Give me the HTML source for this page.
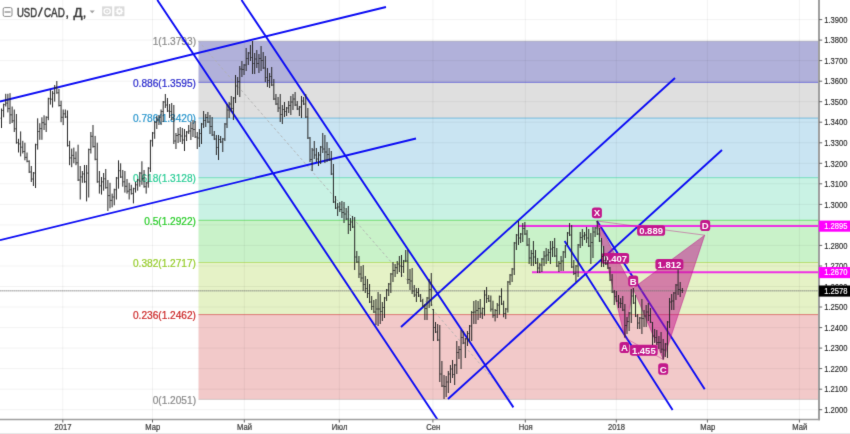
<!DOCTYPE html>
<html lang="ru"><head><meta charset="utf-8"><title>USD/CAD</title>
<style>html,body{margin:0;padding:0;background:#fff;overflow:hidden}body{width:850px;height:434px;position:relative;font-family:"Liberation Sans",sans-serif}</style>
</head><body>
<svg width="850" height="434" viewBox="0 0 850 434" style="position:absolute;left:0;top:0;will-change:transform;font-family:'Liberation Sans',sans-serif">
<defs><filter id="soft" x="0" y="0" width="850" height="434" filterUnits="userSpaceOnUse" color-interpolation-filters="sRGB"><feConvolveMatrix order="3" kernelMatrix="0.0100 0.0800 0.0100 0.0800 0.6400 0.0800 0.0100 0.0800 0.0100" edgeMode="duplicate" preserveAlpha="true"/></filter></defs>
<g filter="url(#soft)">
<rect width="850" height="434" fill="#fff"/>
<clipPath id="cp"><rect x="0" y="0" width="819.0" height="419.5"/></clipPath>
<g clip-path="url(#cp)">
<rect x="198.5" y="41.2" width="620.5" height="41.2" fill="#b1b1da"/>
<rect x="198.5" y="82.4" width="620.5" height="35.7" fill="#dfdfdf"/>
<rect x="198.5" y="118.1" width="620.5" height="59.6" fill="#c9e4f2"/>
<rect x="198.5" y="177.7" width="620.5" height="42.6" fill="#c9f2e4"/>
<rect x="198.5" y="220.3" width="620.5" height="42.2" fill="#c9f2c9"/>
<rect x="198.5" y="262.5" width="620.5" height="52.1" fill="#e5f2c6"/>
<rect x="198.5" y="314.6" width="620.5" height="84.8" fill="#f2c9c9"/>
<path d="M0 19.6H819.0M0 40.1H819.0M0 60.6H819.0M0 81.2H819.0M0 101.7H819.0M0 122.2H819.0M0 142.8H819.0M0 163.3H819.0M0 183.8H819.0M0 204.4H819.0M0 224.9H819.0M0 245.4H819.0M0 266.0H819.0M0 286.5H819.0M0 307.0H819.0M0 327.6H819.0M0 348.1H819.0M0 368.6H819.0M0 389.2H819.0M0 409.7H819.0M62.8 0V419.5M152.5 0V419.5M244.3 0V419.5M339.3 0V419.5M432.9 0V419.5M525.3 0V419.5M616.3 0V419.5M707.4 0V419.5M799.4 0V419.5" stroke="#000" stroke-opacity="0.052" stroke-width="1" fill="none"/>
<path d="M198.5 41.2H819.0" stroke="#808080" stroke-opacity="0.3" stroke-width="1"/>
<path d="M198.5 82.4H819.0" stroke="#2828cc" stroke-opacity="0.55" stroke-width="1"/>
<path d="M198.5 118.1H819.0" stroke="#2895cc" stroke-opacity="0.55" stroke-width="1"/>
<path d="M198.5 177.7H819.0" stroke="#28cc95" stroke-opacity="0.55" stroke-width="1"/>
<path d="M198.5 220.3H819.0" stroke="#28cc28" stroke-opacity="0.55" stroke-width="1"/>
<path d="M198.5 262.5H819.0" stroke="#95cc28" stroke-opacity="0.55" stroke-width="1"/>
<path d="M198.5 314.6H819.0" stroke="#cc2828" stroke-opacity="0.55" stroke-width="1"/>
<path d="M198.5 399.4H819.0" stroke="#808080" stroke-opacity="0.3" stroke-width="1"/>
<text x="196" y="45.4" font-size="10.15" fill="#8a8a8a" stroke="#8a8a8a" stroke-width="0.2" text-anchor="end">1(1.3793)</text>
<text x="196" y="86.6" font-size="10.15" fill="#2828cc" stroke="#2828cc" stroke-width="0.2" text-anchor="end">0.886(1.3595)</text>
<text x="196" y="122.3" font-size="10.15" fill="#2895cc" stroke="#2895cc" stroke-width="0.2" text-anchor="end">0.786(1.3420)</text>
<text x="196" y="181.9" font-size="10.15" fill="#28cc95" stroke="#28cc95" stroke-width="0.2" text-anchor="end">0.618(1.3128)</text>
<text x="196" y="224.5" font-size="10.15" fill="#28cc28" stroke="#28cc28" stroke-width="0.2" text-anchor="end">0.5(1.2922)</text>
<text x="196" y="266.7" font-size="10.15" fill="#95cc28" stroke="#95cc28" stroke-width="0.2" text-anchor="end">0.382(1.2717)</text>
<text x="196" y="318.8" font-size="10.15" fill="#cc2828" stroke="#cc2828" stroke-width="0.2" text-anchor="end">0.236(1.2462)</text>
<text x="196" y="403.6" font-size="10.15" fill="#8a8a8a" stroke="#8a8a8a" stroke-width="0.2" text-anchor="end">0(1.2051)</text>
<path d="M198.5 41.2L511 399.4" stroke="#b0b0b0" stroke-opacity="0.9" stroke-width="1" stroke-dasharray="2.5 2.5" fill="none"/>
<path d="M0 101.5L386 7M0 240.2L416 138.5M157.3 0L437.8 420M241.5 0L513.4 407.4M401 327L675 78M448 399L722 150" stroke="#0c0cf4" stroke-width="1.9" fill="none"/>
<path d="M564.6 241L672.6 410M597 221L704.7 389.3" stroke="#0c0cf4" stroke-width="1.9" fill="none"/>
<path d="M519 226H819.0M532 272.2H819.0" stroke="#f020e6" stroke-width="1.9" stroke-opacity="0.92"/>
<polygon points="597.0,221.0 624.8,337.7 633.0,288.2" fill="#c2188b" fill-opacity="0.53" stroke="#c2188b" stroke-opacity="0.5" stroke-width="1" stroke-linejoin="round"/>
<polygon points="633.0,288.2 663.3,359.5 704.7,235.2" fill="#c2188b" fill-opacity="0.53" stroke="#c2188b" stroke-opacity="0.5" stroke-width="1" stroke-linejoin="round"/>
<path d="M597.0 221.0L704.7 235.2M624.8 337.7L663.3 359.5" stroke="#c2188b" stroke-opacity="0.45" stroke-width="1" fill="none"/>
<rect x="591.9" y="207.5" width="10" height="10.8" rx="2.8" fill="#c2188b"/>
<text x="596.9" y="216.4" font-size="9.6" font-weight="700" fill="#fff" text-anchor="middle">X</text>
<rect x="700.2" y="220.0" width="10" height="11" rx="2.8" fill="#c2188b"/>
<text x="705.2" y="229.0" font-size="9.6" font-weight="700" fill="#fff" text-anchor="middle">D</text>
<rect x="628.2" y="275.6" width="10" height="11" rx="2.8" fill="#c2188b"/>
<text x="633.2" y="284.6" font-size="9.6" font-weight="700" fill="#fff" text-anchor="middle">B</text>
<rect x="619.5" y="342.0" width="9.8" height="11" rx="2.8" fill="#c2188b"/>
<text x="624.4" y="351.0" font-size="9.6" font-weight="700" fill="#fff" text-anchor="middle">A</text>
<rect x="658.2" y="363.3" width="10" height="11.4" rx="2.8" fill="#c2188b"/>
<text x="663.2" y="372.5" font-size="9.6" font-weight="700" fill="#fff" text-anchor="middle">C</text>
<rect x="637.1" y="225.3" width="28" height="10.4" rx="2.8" fill="#c2188b"/>
<text x="651.1" y="234.0" font-size="9.8" font-weight="700" fill="#fff" text-anchor="middle" textLength="23.8" lengthAdjust="spacingAndGlyphs">0.889</text>
<rect x="601.3" y="253.1" width="27.8" height="10.6" rx="2.8" fill="#c2188b"/>
<text x="615.2" y="261.9" font-size="9.8" font-weight="700" fill="#fff" text-anchor="middle" textLength="23.8" lengthAdjust="spacingAndGlyphs">0.407</text>
<rect x="655.4" y="259.1" width="28" height="10.6" rx="2.8" fill="#c2188b"/>
<text x="669.4" y="267.9" font-size="9.8" font-weight="700" fill="#fff" text-anchor="middle" textLength="23.8" lengthAdjust="spacingAndGlyphs">1.812</text>
<rect x="629.9" y="344.8" width="27.8" height="11" rx="2.8" fill="#c2188b"/>
<text x="643.8" y="353.8" font-size="9.8" font-weight="700" fill="#fff" text-anchor="middle" textLength="23.8" lengthAdjust="spacingAndGlyphs">1.455</text>
<path d="M0 290.8H819.0" stroke="#777" stroke-width="1.4" stroke-opacity="0.36"/>
<path d="M0 290.8H819.0" stroke="#555" stroke-width="1.4" stroke-dasharray="1 1" stroke-opacity="0.16"/>
<path d="M1.50 108.5V128.0M3.63 103.6V117.3M5.76 93.8V106.5M7.88 93.8V112.4M10.01 93.2V124.0M12.14 106.5V123.0M14.27 109.5V132.0M16.39 114.0V143.7M18.52 138.8V152.5M20.65 131.4V156.4M22.78 140.8V153.5M24.90 142.7V160.3M27.03 152.5V162.3M29.16 160.3V173.0M31.29 166.0V182.0M33.41 172.0V186.0M35.54 143.7V188.0M37.67 118.3V149.6M39.80 123.2V139.8M41.92 117.3V139.8M44.05 115.3V130.0M46.18 116.3V132.0M48.31 97.7V120.2M50.43 89.9V104.6M52.56 90.9V107.5M54.69 85.0V101.6M56.82 81.0V93.8M58.95 88.9V106.5M61.07 100.7V122.2M63.20 109.5V125.1M65.33 109.5V118.0M67.46 110.4V146.6M69.58 140.8V165.2M71.71 148.6V167.2M73.84 147.6V163.3M75.97 151.5V165.2M78.09 144.7V181.0M80.22 166.0V199.5M82.35 171.0V182.8M84.48 165.0V182.8M86.60 165.0V201.4M88.73 148.6V197.5M90.86 132.0V153.5M92.99 125.0V147.6M95.11 135.9V160.3M97.24 142.7V182.8M99.37 171.0V193.6M101.50 177.0V194.6M103.62 173.0V190.7M105.75 169.0V188.7M107.88 180.0V211.0M110.01 182.8V208.3M112.14 193.6V207.3M114.26 188.7V205.3M116.39 177.0V199.5M118.52 160.3V188.7M120.65 163.3V178.0M122.77 170.0V186.7M124.90 171.0V192.6M127.03 179.0V193.6M129.16 182.8V199.5M131.28 184.8V194.6M133.41 187.7V203.4M135.54 181.9V192.6M137.67 179.0V190.7M139.79 172.0V186.7M141.92 161.3V184.8M144.05 170.0V187.7M146.18 181.9V193.6M148.30 167.2V187.7M150.43 139.8V172.0M152.56 132.0V146.6M154.69 121.0V138.8M156.81 116.0V129.0M158.94 115.0V125.0M161.07 109.5V125.0M163.20 101.0V122.0M165.33 94.0V108.0M167.45 98.0V112.0M169.58 104.0V118.0M171.71 103.0V120.0M173.84 105.0V144.0M175.96 133.0V149.0M178.09 128.0V143.0M180.22 127.0V142.0M182.35 128.0V144.0M184.47 129.0V151.0M186.60 131.0V141.0M188.73 125.0V134.0M190.86 122.0V140.0M192.98 120.0V137.0M195.11 121.0V138.0M197.24 132.0V149.0M199.37 129.0V147.0M201.49 123.0V144.0M203.62 111.0V128.0M205.75 114.0V127.0M207.88 112.0V123.0M210.00 115.0V134.0M212.13 117.0V136.0M214.26 131.0V140.0M216.39 135.0V155.0M218.52 135.0V160.0M220.64 136.0V143.0M222.77 138.0V152.0M224.90 123.0V141.0M227.03 104.0V128.0M229.15 102.0V118.0M231.28 96.0V112.0M233.41 97.0V120.0M235.54 75.0V103.0M237.66 77.0V95.0M239.79 66.0V97.0M241.92 61.0V77.0M244.05 64.0V75.0M246.17 48.0V71.0M248.30 52.0V65.0M250.43 45.0V61.0M252.56 41.0V74.0M254.68 53.0V74.0M256.81 50.0V68.0M258.94 54.0V73.0M261.07 46.0V71.0M263.19 52.0V69.0M265.32 56.0V82.0M267.45 68.0V87.0M269.58 73.0V88.0M271.71 67.0V86.0M273.83 79.0V100.0M275.96 94.0V105.0M278.09 97.0V112.0M280.22 94.0V122.0M282.34 105.0V124.0M284.47 102.0V117.0M286.60 107.0V116.0M288.73 101.0V113.0M290.85 96.0V115.0M292.98 94.0V110.0M295.11 92.0V106.0M297.24 101.0V110.0M299.36 106.0V116.0M301.49 96.0V118.0M303.62 97.0V105.0M305.75 94.0V118.0M307.87 108.0V139.0M310.00 137.0V162.0M312.13 148.0V171.0M314.26 141.0V159.0M316.38 148.0V162.0M318.51 152.0V166.0M320.64 146.0V164.0M322.77 133.0V153.0M324.90 135.0V163.0M327.02 142.0V162.0M329.15 148.0V161.0M331.28 151.0V175.0M333.41 164.0V203.0M335.53 196.0V209.0M337.66 203.0V216.0M339.79 202.0V212.0M341.92 201.0V218.0M344.04 202.0V223.0M346.17 208.0V220.0M348.30 206.0V234.0M350.43 218.0V231.0M352.55 216.0V228.0M354.68 217.0V270.0M356.81 251.0V263.0M358.94 256.0V278.0M361.06 266.0V282.0M363.19 265.0V291.0M365.32 276.0V293.0M367.45 279.0V298.0M369.57 284.0V303.0M371.70 296.0V310.0M373.83 300.0V313.0M375.96 299.0V325.0M378.09 292.0V326.0M380.21 294.0V324.0M382.34 302.0V321.0M384.47 297.0V318.0M386.60 289.0V301.0M388.72 283.0V296.0M390.85 273.0V293.0M392.98 262.0V282.0M395.11 264.0V277.0M397.23 261.0V274.0M399.36 256.0V272.0M401.49 255.0V277.0M403.62 260.0V273.0M405.74 250.0V262.0M407.87 250.0V284.0M410.00 269.0V290.0M412.13 268.0V294.0M414.25 285.0V297.0M416.38 288.0V302.0M418.51 288.0V297.0M420.64 294.0V302.0M422.76 299.0V307.0M424.89 304.0V320.0M427.02 297.0V320.0M429.15 279.0V308.0M431.28 273.0V306.0M433.40 309.0V341.0M435.53 322.0V333.0M437.66 324.0V341.0M439.79 325.0V382.0M441.91 361.0V387.0M444.04 375.0V399.0M446.17 376.0V397.0M448.30 371.0V393.0M450.42 365.0V383.0M452.55 360.0V378.0M454.68 364.0V385.0M456.81 341.0V374.0M458.93 346.0V359.0M461.06 330.0V369.0M463.19 331.0V344.0M465.32 338.0V358.0M467.44 331.0V346.0M469.57 325.0V342.0M471.70 311.0V341.0M473.83 301.0V324.0M475.95 300.0V324.0M478.08 301.0V320.0M480.21 299.0V318.0M482.34 307.5V319.0M484.47 290.0V315.7M486.59 287.0V303.0M488.72 295.0V302.0M490.85 295.5V311.6M492.98 300.7V317.8M495.10 309.0V321.4M497.23 303.0V318.0M499.36 295.5V314.7M501.49 288.3V305.0M503.61 300.7V317.3M505.74 308.0V319.0M507.87 281.0V312.6M510.00 274.0V285.0M512.12 268.0V282.0M514.25 242.0V275.0M516.38 234.0V250.0M518.51 221.0V245.0M520.63 233.0V243.0M522.76 223.0V242.0M524.89 222.0V235.0M527.02 230.0V246.0M529.14 238.0V264.0M531.27 250.0V266.0M533.40 241.0V266.0M535.53 250.0V264.0M537.66 258.0V273.0M539.78 263.0V273.0M541.91 258.0V272.0M544.04 251.0V266.0M546.17 248.0V264.0M548.29 249.0V261.0M550.42 241.0V264.0M552.55 241.0V257.0M554.68 238.0V257.0M556.80 248.0V267.0M558.93 261.0V272.0M561.06 256.0V271.0M563.19 251.0V271.0M565.31 245.0V258.0M567.44 232.0V245.0M569.57 223.0V236.0M571.70 225.0V268.0M573.82 260.0V275.0M575.95 265.0V282.0M578.08 244.0V277.0M580.21 232.0V248.0M582.33 229.0V246.0M584.46 232.0V240.0M586.59 227.0V243.0M588.72 229.0V247.0M590.85 233.0V264.0M592.97 227.0V258.0M595.10 227.0V237.0M597.23 221.0V235.0M599.36 228.0V242.0M601.48 238.0V267.0M603.61 246.0V267.0M605.74 256.0V265.0M607.87 260.0V269.0M609.99 267.0V281.0M612.12 274.0V293.0M614.25 290.0V305.0M616.38 291.0V302.0M618.50 295.0V308.0M620.63 298.0V308.0M622.76 296.0V311.0M624.89 304.0V337.5M627.01 317.0V334.0M629.14 312.0V331.0M631.27 289.0V323.0M633.40 288.0V304.0M635.52 295.0V317.0M637.65 314.0V329.0M639.78 317.0V329.0M641.91 299.0V334.0M644.04 310.0V327.0M646.16 305.0V327.0M648.29 303.0V321.0M650.42 308.0V323.0M652.55 322.0V345.0M654.67 329.0V343.0M656.80 330.0V345.0M658.93 336.0V349.0M661.06 332.0V353.0M663.18 339.0V359.5M665.31 343.0V357.0M667.44 321.0V358.0M669.57 298.0V328.0M671.69 294.0V310.0M673.82 292.0V310.0M675.95 284.0V300.0M678.08 269.5V295.0M680.20 282.0V297.0M682.33 288.0V293.0" stroke="#262626" stroke-width="1" fill="none"/>
<path d="M0.40 118.2H1.50M1.50 110.4H2.60M2.53 110.4H3.63M3.63 104.6H4.73M4.66 104.6H5.76M5.76 103.1H6.86M6.78 103.1H7.88M7.88 108.6H8.98M8.91 108.6H10.01M10.01 114.8H11.11M11.04 114.8H12.14M12.14 120.8H13.24M13.17 120.8H14.27M14.27 128.8H15.37M15.29 128.8H16.39M16.39 142.7H17.49M17.42 142.7H18.52M18.52 143.9H19.62M19.55 143.9H20.65M20.65 147.2H21.75M21.68 147.2H22.78M22.78 151.5H23.88M23.80 151.5H24.90M24.90 157.4H26.00M25.93 157.4H27.03M27.03 161.3H28.13M28.06 161.3H29.16M29.16 172.0H30.26M30.19 172.0H31.29M31.29 179.0H32.39M32.31 179.0H33.41M33.41 173.0H34.51M34.44 173.0H35.54M35.54 144.7H36.64M36.57 144.7H37.67M37.67 131.5H38.77M38.70 131.5H39.80M39.80 128.6H40.90M40.82 128.6H41.92M41.92 122.7H43.02M42.95 122.7H44.05M44.05 124.2H45.15M45.08 124.2H46.18M46.18 117.3H47.28M47.21 117.3H48.31M48.31 98.7H49.41M49.33 98.7H50.43M50.43 99.2H51.53M51.46 99.2H52.56M52.56 93.3H53.66M53.59 93.3H54.69M54.69 87.4H55.79M55.72 87.4H56.82M56.82 92.8H57.92M57.85 92.8H58.95M58.95 105.5H60.05M59.97 105.5H61.07M61.07 117.3H62.17M62.10 117.3H63.20M63.20 113.8H64.30M64.23 113.8H65.33M65.33 117.0H66.43M66.36 117.0H67.46M67.46 145.6H68.56M68.48 145.6H69.58M69.58 157.9H70.68M70.61 157.9H71.71M71.71 155.4H72.81M72.74 155.4H73.84M73.84 158.3H74.94M74.87 158.3H75.97M75.97 162.8H77.07M76.99 162.8H78.09M78.09 180.0H79.19M79.12 180.0H80.22M80.22 176.9H81.32M81.25 176.9H82.35M82.35 173.9H83.45M83.38 173.9H84.48M84.48 181.8H85.58M85.50 181.8H86.60M86.60 173.1H87.70M87.63 173.1H88.73M88.73 149.6H89.83M89.76 149.6H90.86M90.86 136.3H91.96M91.89 136.3H92.99M92.99 146.6H94.09M94.01 146.6H95.11M95.11 159.3H96.21M96.14 159.3H97.24M97.24 181.8H98.34M98.27 181.8H99.37M99.37 185.8H100.47M100.40 185.8H101.50M101.50 181.8H102.60M102.52 181.8H103.62M103.62 178.8H104.72M104.65 178.8H105.75M105.75 187.7H106.85M106.78 187.7H107.88M107.88 195.6H108.98M108.91 195.6H110.01M110.01 200.4H111.11M111.04 200.4H112.14M112.14 197.0H113.24M113.16 197.0H114.26M114.26 189.7H115.36M115.29 189.7H116.39M116.39 178.0H117.49M117.42 178.0H118.52M118.52 170.7H119.62M119.55 170.7H120.65M120.65 177.0H121.75M121.67 177.0H122.77M122.77 181.8H123.87M123.80 181.8H124.90M124.90 186.3H126.00M125.93 186.3H127.03M127.03 191.2H128.13M128.06 191.2H129.16M129.16 189.7H130.26M130.18 189.7H131.28M131.28 193.6H132.38M132.31 193.6H133.41M133.41 188.7H134.51M134.44 188.7H135.54M135.54 184.8H136.64M136.57 184.8H137.67M137.67 180.0H138.77M138.69 180.0H139.79M139.79 173.1H140.89M140.82 173.1H141.92M141.92 178.8H143.02M142.95 178.8H144.05M144.05 186.7H145.15M145.08 186.7H146.18M146.18 182.9H147.28M147.20 182.9H148.30M148.30 168.2H149.40M149.33 168.2H150.43M150.43 140.8H151.53M151.46 140.8H152.56M152.56 133.0H153.66M153.59 133.0H154.69M154.69 122.5H155.79M155.71 122.5H156.81M156.81 120.0H157.91M157.84 120.0H158.94M158.94 117.2H160.04M159.97 117.2H161.07M161.07 111.5H162.17M162.10 111.5H163.20M163.20 102.0H164.30M164.23 102.0H165.33M165.33 105.0H166.43M166.35 105.0H167.45M167.45 111.0H168.55M168.48 111.0H169.58M169.58 111.5H170.68M170.61 111.5H171.71M171.71 119.0H172.81M172.74 119.0H173.84M173.84 141.0H174.94M174.86 141.0H175.96M175.96 135.5H177.06M176.99 135.5H178.09M178.09 134.5H179.19M179.12 134.5H180.22M180.22 136.0H181.32M181.25 136.0H182.35M182.35 140.0H183.45M183.37 140.0H184.47M184.47 136.0H185.57M185.50 136.0H186.60M186.60 132.0H187.70M187.63 132.0H188.73M188.73 131.0H189.83M189.76 131.0H190.86M190.86 128.5H191.96M191.88 128.5H192.98M192.98 129.5H194.08M194.01 129.5H195.11M195.11 137.0H196.21M196.14 137.0H197.24M197.24 138.0H198.34M198.27 138.0H199.37M199.37 133.5H200.47M200.39 133.5H201.49M201.49 124.0H202.59M202.52 124.0H203.62M203.62 120.5H204.72M204.65 120.5H205.75M205.75 117.5H206.85M206.78 117.5H207.88M207.88 122.0H208.98M208.90 122.0H210.00M210.00 126.5H211.10M211.03 126.5H212.13M212.13 135.0H213.23M213.16 135.0H214.26M214.26 139.0H215.36M215.29 139.0H216.39M216.39 147.5H217.49M217.42 147.5H218.52M218.52 139.5H219.62M219.54 139.5H220.64M220.64 142.0H221.74M221.67 142.0H222.77M222.77 139.0H223.87M223.80 139.0H224.90M224.90 124.0H226.00M225.93 124.0H227.03M227.03 110.0H228.13M228.05 110.0H229.15M229.15 104.0H230.25M230.18 104.0H231.28M231.28 108.5H232.38M232.31 108.5H233.41M233.41 98.0H234.51M234.44 98.0H235.54M235.54 86.0H236.64M236.56 86.0H237.66M237.66 81.5H238.76M238.69 81.5H239.79M239.79 69.0H240.89M240.82 69.0H241.92M241.92 69.5H243.02M242.95 69.5H244.05M244.05 65.0H245.15M245.07 65.0H246.17M246.17 58.5H247.27M247.20 58.5H248.30M248.30 53.0H249.40M249.33 53.0H250.43M250.43 57.5H251.53M251.46 57.5H252.56M252.56 63.5H253.66M253.58 63.5H254.68M254.68 59.0H255.78M255.71 59.0H256.81M256.81 63.5H257.91M257.84 63.5H258.94M258.94 58.5H260.04M259.97 58.5H261.07M261.07 60.5H262.17M262.09 60.5H263.19M263.19 68.0H264.29M264.22 68.0H265.32M265.32 77.5H266.42M266.35 77.5H267.45M267.45 80.5H268.55M268.48 80.5H269.58M269.58 76.5H270.68M270.61 76.5H271.71M271.71 85.0H272.81M272.73 85.0H273.83M273.83 99.0H274.93M274.86 99.0H275.96M275.96 104.0H277.06M276.99 104.0H278.09M278.09 108.0H279.19M279.12 108.0H280.22M280.22 114.5H281.32M281.24 114.5H282.34M282.34 109.5H283.44M283.37 109.5H284.47M284.47 111.5H285.57M285.50 111.5H286.60M286.60 108.0H287.70M287.63 108.0H288.73M288.73 105.5H289.83M289.75 105.5H290.85M290.85 102.0H291.95M291.88 102.0H292.98M292.98 99.0H294.08M294.01 99.0H295.11M295.11 105.0H296.21M296.14 105.0H297.24M297.24 109.0H298.34M298.26 109.0H299.36M299.36 107.0H300.46M300.39 107.0H301.49M301.49 101.0H302.59M302.52 101.0H303.62M303.62 104.0H304.72M304.65 104.0H305.75M305.75 117.0H306.85M306.77 117.0H307.87M307.87 138.0H308.97M308.90 138.0H310.00M310.00 159.5H311.10M311.03 159.5H312.13M312.13 150.0H313.23M313.16 150.0H314.26M314.26 155.0H315.36M315.28 155.0H316.38M316.38 159.0H317.48M317.41 159.0H318.51M318.51 155.0H319.61M319.54 155.0H320.64M320.64 147.0H321.74M321.67 147.0H322.77M322.77 149.0H323.87M323.80 149.0H324.90M324.90 152.0H326.00M325.92 152.0H327.02M327.02 154.5H328.12M328.05 154.5H329.15M329.15 160.0H330.25M330.18 160.0H331.28M331.28 174.0H332.38M332.31 174.0H333.41M333.41 202.0H334.51M334.43 202.0H335.53M335.53 208.0H336.63M336.56 208.0H337.66M337.66 207.0H338.76M338.69 207.0H339.79M339.79 209.5H340.89M340.82 209.5H341.92M341.92 212.5H343.02M342.94 212.5H344.04M344.04 214.0H345.14M345.07 214.0H346.17M346.17 219.0H347.27M347.20 219.0H348.30M348.30 224.5H349.40M349.33 224.5H350.43M350.43 222.0H351.53M351.45 222.0H352.55M352.55 227.0H353.65M353.58 227.0H354.68M354.68 257.0H355.78M355.71 257.0H356.81M356.81 262.0H357.91M357.84 262.0H358.94M358.94 274.0H360.04M359.96 274.0H361.06M361.06 278.0H362.16M362.09 278.0H363.19M363.19 284.5H364.29M364.22 284.5H365.32M365.32 288.5H366.42M366.35 288.5H367.45M367.45 293.5H368.55M368.47 293.5H369.57M369.57 302.0H370.67M370.60 302.0H371.70M371.70 306.5H372.80M372.73 306.5H373.83M373.83 312.0H374.93M374.86 312.0H375.96M375.96 309.0H377.06M376.99 309.0H378.09M378.09 309.0H379.19M379.11 309.0H380.21M380.21 311.5H381.31M381.24 311.5H382.34M382.34 307.5H383.44M383.37 307.5H384.47M384.47 298.0H385.57M385.50 298.0H386.60M386.60 290.0H387.70M387.62 290.0H388.72M388.72 284.0H389.82M389.75 284.0H390.85M390.85 274.0H391.95M391.88 274.0H392.98M392.98 270.5H394.08M394.01 270.5H395.11M395.11 267.5H396.21M396.13 267.5H397.23M397.23 264.0H398.33M398.26 264.0H399.36M399.36 266.0H400.46M400.39 266.0H401.49M401.49 266.5H402.59M402.52 266.5H403.62M403.62 261.0H404.72M404.64 261.0H405.74M405.74 261.0H406.84M406.77 261.0H407.87M407.87 279.5H408.97M408.90 279.5H410.00M410.00 281.0H411.10M411.03 281.0H412.13M412.13 291.0H413.23M413.15 291.0H414.25M414.25 295.0H415.35M415.28 295.0H416.38M416.38 292.5H417.48M417.41 292.5H418.51M418.51 296.0H419.61M419.54 296.0H420.64M420.64 301.0H421.74M421.66 301.0H422.76M422.76 306.0H423.86M423.79 306.0H424.89M424.89 308.5H425.99M425.92 308.5H427.02M427.02 298.0H428.12M428.05 298.0H429.15M429.15 289.5H430.25M430.18 289.5H431.28M431.28 305.0H432.38M432.30 309.5H433.40M433.40 327.5H434.50M434.43 327.5H435.53M435.53 332.0H436.63M436.56 332.0H437.66M437.66 340.0H438.76M438.69 340.0H439.79M439.79 374.0H440.89M440.81 374.0H441.91M441.91 386.0H443.01M442.94 386.0H444.04M444.04 386.5H445.14M445.07 386.5H446.17M446.17 382.0H447.27M447.20 382.0H448.30M448.30 374.0H449.40M449.32 374.0H450.42M450.42 369.0H451.52M451.45 369.0H452.55M452.55 374.5H453.65M453.58 374.5H454.68M454.68 365.0H455.78M455.71 365.0H456.81M456.81 352.5H457.91M457.83 352.5H458.93M458.93 349.5H460.03M459.96 349.5H461.06M461.06 337.5H462.16M462.09 337.5H463.19M463.19 343.0H464.29M464.22 343.0H465.32M465.32 339.0H466.42M466.34 339.0H467.44M467.44 333.5H468.54M468.47 333.5H469.57M469.57 326.0H470.67M470.60 326.0H471.70M471.70 312.5H472.80M472.73 312.5H473.83M473.83 312.0H474.93M474.85 312.0H475.95M475.95 310.5H477.05M476.98 310.5H478.08M478.08 308.5H479.18M479.11 308.5H480.21M480.21 313.2H481.31M481.24 313.2H482.34M482.34 308.5H483.44M483.37 308.5H484.47M484.47 295.0H485.57M485.49 295.0H486.59M486.59 298.5H487.69M487.62 298.5H488.72M488.72 301.0H489.82M489.75 301.0H490.85M490.85 309.2H491.95M491.88 309.2H492.98M492.98 315.2H494.08M494.00 315.2H495.10M495.10 310.5H496.20M496.13 310.5H497.23M497.23 305.1H498.33M498.26 305.1H499.36M499.36 296.6H500.46M500.39 296.6H501.49M501.49 304.0H502.59M502.51 304.0H503.61M503.61 313.5H504.71M504.64 313.5H505.74M505.74 309.0H506.84M506.77 309.0H507.87M507.87 282.0H508.97M508.90 282.0H510.00M510.00 275.0H511.10M511.02 275.0H512.12M512.12 269.0H513.22M513.15 269.0H514.25M514.25 243.0H515.35M515.28 243.0H516.38M516.38 235.0H517.48M517.41 235.0H518.51M518.51 238.0H519.61M519.53 238.0H520.63M520.63 234.0H521.73M521.66 234.0H522.76M522.76 228.5H523.86M523.79 228.5H524.89M524.89 234.0H525.99M525.92 234.0H527.02M527.02 245.0H528.12M528.04 245.0H529.14M529.14 258.0H530.24M530.17 258.0H531.27M531.27 253.5H532.37M532.30 253.5H533.40M533.40 257.0H534.50M534.43 257.0H535.53M535.53 263.0H536.63M536.56 263.0H537.66M537.66 268.0H538.76M538.68 268.0H539.78M539.78 265.0H540.88M540.81 265.0H541.91M541.91 259.0H543.01M542.94 259.0H544.04M544.04 256.0H545.14M545.07 256.0H546.17M546.17 255.0H547.27M547.19 255.0H548.29M548.29 252.5H549.39M549.32 252.5H550.42M550.42 249.0H551.52M551.45 249.0H552.55M552.55 247.5H553.65M553.58 247.5H554.68M554.68 256.0H555.78M555.70 256.0H556.80M556.80 266.0H557.90M557.83 266.0H558.93M558.93 263.5H560.03M559.96 263.5H561.06M561.06 261.0H562.16M562.09 261.0H563.19M563.19 252.0H564.29M564.21 252.0H565.31M565.31 246.0H566.41M566.34 244.5H567.44M567.44 233.0H568.54M568.47 233.0H569.57M569.57 235.0H570.67M570.60 235.0H571.70M571.70 267.0H572.80M572.72 267.0H573.82M573.82 273.5H574.92M574.85 273.5H575.95M575.95 266.0H577.05M576.98 266.0H578.08M578.08 245.0H579.18M579.11 245.0H580.21M580.21 237.5H581.31M581.23 237.5H582.33M582.33 236.0H583.43M583.36 236.0H584.46M584.46 235.0H585.56M585.49 235.0H586.59M586.59 238.0H587.69M587.62 238.0H588.72M588.72 246.0H589.82M589.75 246.0H590.85M590.85 242.5H591.95M591.87 242.5H592.97M592.97 232.0H594.07M594.00 232.0H595.10M595.10 228.0H596.20M596.13 228.0H597.23M597.23 234.0H598.33M598.26 234.0H599.36M599.36 241.0H600.46M600.38 241.0H601.48M601.48 256.5H602.58M602.51 256.5H603.61M603.61 260.5H604.71M604.64 260.5H605.74M605.74 264.0H606.84M606.77 264.0H607.87M607.87 268.0H608.97M608.89 268.0H609.99M609.99 280.0H611.09M611.02 280.0H612.12M612.12 292.0H613.22M613.15 292.0H614.25M614.25 296.5H615.35M615.28 296.5H616.38M616.38 301.0H617.48M617.40 301.0H618.50M618.50 303.0H619.60M619.53 303.0H620.63M620.63 303.5H621.73M621.66 303.5H622.76M622.76 310.0H623.86M623.79 310.0H624.89M624.89 325.5H625.99M625.91 325.5H627.01M627.01 321.5H628.11M628.04 321.5H629.14M629.14 313.0H630.24M630.17 313.0H631.27M631.27 296.0H632.37M632.30 296.0H633.40M633.40 303.0H634.50M634.42 303.0H635.52M635.52 316.0H636.62M636.55 316.0H637.65M637.65 323.0H638.75M638.68 323.0H639.78M639.78 318.0H640.88M640.81 318.0H641.91M641.91 318.5H643.01M642.94 318.5H644.04M644.04 316.0H645.14M645.06 316.0H646.16M646.16 312.0H647.26M647.19 312.0H648.29M648.29 315.5H649.39M649.32 315.5H650.42M650.42 322.0H651.52M651.45 322.5H652.55M652.55 336.0H653.65M653.57 336.0H654.67M654.67 337.5H655.77M655.70 337.5H656.80M656.80 342.5H657.90M657.83 342.5H658.93M658.93 342.5H660.03M659.96 342.5H661.06M661.06 349.2H662.16M662.08 349.2H663.18M663.18 350.0H664.28M664.21 350.0H665.31M665.31 344.0H666.41M666.34 344.0H667.44M667.44 322.0H668.54M668.47 322.0H669.57M669.57 302.0H670.67M670.59 302.0H671.69M671.69 301.0H672.79M672.72 301.0H673.82M673.82 293.0H674.92M674.85 293.0H675.95M675.95 285.0H677.05M676.98 285.0H678.08M678.08 289.5H679.18M679.10 289.5H680.20M680.20 290.5H681.30M681.23 290.5H682.33M682.33 290.5H683.43" stroke="#262626" stroke-width="1" stroke-opacity="0.7" fill="none"/>
</g>
<rect x="819.0" y="0" width="31.0" height="434" fill="#fff"/>
<rect x="0" y="420.0" width="850" height="14.5" fill="#fff"/>
<path d="M819.0 0V420.3" stroke="#9e9e9e" stroke-width="2"/>
<path d="M0 419.5H820.0" stroke="#9e9e9e" stroke-width="1.6"/>
<path d="M0 433.5H850" stroke="#e6e6e6" stroke-width="1"/>
<path d="M819.0 19.6h3.2M819.0 40.1h3.2M819.0 60.6h3.2M819.0 81.2h3.2M819.0 101.7h3.2M819.0 122.2h3.2M819.0 142.8h3.2M819.0 163.3h3.2M819.0 183.8h3.2M819.0 204.4h3.2M819.0 224.9h3.2M819.0 245.4h3.2M819.0 266.0h3.2M819.0 286.5h3.2M819.0 307.0h3.2M819.0 327.6h3.2M819.0 348.1h3.2M819.0 368.6h3.2M819.0 389.2h3.2M819.0 409.7h3.2" stroke="#666" stroke-width="1"/>
<text x="824.2" y="22.8" font-size="8.3" fill="#2a2a2a" stroke="#2a2a2a" stroke-width="0.15" textLength="23.2" lengthAdjust="spacingAndGlyphs">1.3900</text>
<text x="824.2" y="43.3" font-size="8.3" fill="#2a2a2a" stroke="#2a2a2a" stroke-width="0.15" textLength="23.2" lengthAdjust="spacingAndGlyphs">1.3800</text>
<text x="824.2" y="63.8" font-size="8.3" fill="#2a2a2a" stroke="#2a2a2a" stroke-width="0.15" textLength="23.2" lengthAdjust="spacingAndGlyphs">1.3700</text>
<text x="824.2" y="84.4" font-size="8.3" fill="#2a2a2a" stroke="#2a2a2a" stroke-width="0.15" textLength="23.2" lengthAdjust="spacingAndGlyphs">1.3600</text>
<text x="824.2" y="104.9" font-size="8.3" fill="#2a2a2a" stroke="#2a2a2a" stroke-width="0.15" textLength="23.2" lengthAdjust="spacingAndGlyphs">1.3500</text>
<text x="824.2" y="125.4" font-size="8.3" fill="#2a2a2a" stroke="#2a2a2a" stroke-width="0.15" textLength="23.2" lengthAdjust="spacingAndGlyphs">1.3400</text>
<text x="824.2" y="146.0" font-size="8.3" fill="#2a2a2a" stroke="#2a2a2a" stroke-width="0.15" textLength="23.2" lengthAdjust="spacingAndGlyphs">1.3300</text>
<text x="824.2" y="166.5" font-size="8.3" fill="#2a2a2a" stroke="#2a2a2a" stroke-width="0.15" textLength="23.2" lengthAdjust="spacingAndGlyphs">1.3200</text>
<text x="824.2" y="187.0" font-size="8.3" fill="#2a2a2a" stroke="#2a2a2a" stroke-width="0.15" textLength="23.2" lengthAdjust="spacingAndGlyphs">1.3100</text>
<text x="824.2" y="207.6" font-size="8.3" fill="#2a2a2a" stroke="#2a2a2a" stroke-width="0.15" textLength="23.2" lengthAdjust="spacingAndGlyphs">1.3000</text>
<text x="824.2" y="228.1" font-size="8.3" fill="#2a2a2a" stroke="#2a2a2a" stroke-width="0.15" textLength="23.2" lengthAdjust="spacingAndGlyphs">1.2900</text>
<text x="824.2" y="248.6" font-size="8.3" fill="#2a2a2a" stroke="#2a2a2a" stroke-width="0.15" textLength="23.2" lengthAdjust="spacingAndGlyphs">1.2800</text>
<text x="824.2" y="269.2" font-size="8.3" fill="#2a2a2a" stroke="#2a2a2a" stroke-width="0.15" textLength="23.2" lengthAdjust="spacingAndGlyphs">1.2700</text>
<text x="824.2" y="289.7" font-size="8.3" fill="#2a2a2a" stroke="#2a2a2a" stroke-width="0.15" textLength="23.2" lengthAdjust="spacingAndGlyphs">1.2600</text>
<text x="824.2" y="310.2" font-size="8.3" fill="#2a2a2a" stroke="#2a2a2a" stroke-width="0.15" textLength="23.2" lengthAdjust="spacingAndGlyphs">1.2500</text>
<text x="824.2" y="330.8" font-size="8.3" fill="#2a2a2a" stroke="#2a2a2a" stroke-width="0.15" textLength="23.2" lengthAdjust="spacingAndGlyphs">1.2400</text>
<text x="824.2" y="351.3" font-size="8.3" fill="#2a2a2a" stroke="#2a2a2a" stroke-width="0.15" textLength="23.2" lengthAdjust="spacingAndGlyphs">1.2300</text>
<text x="824.2" y="371.8" font-size="8.3" fill="#2a2a2a" stroke="#2a2a2a" stroke-width="0.15" textLength="23.2" lengthAdjust="spacingAndGlyphs">1.2200</text>
<text x="824.2" y="392.4" font-size="8.3" fill="#2a2a2a" stroke="#2a2a2a" stroke-width="0.15" textLength="23.2" lengthAdjust="spacingAndGlyphs">1.2100</text>
<text x="824.2" y="412.9" font-size="8.3" fill="#2a2a2a" stroke="#2a2a2a" stroke-width="0.15" textLength="23.2" lengthAdjust="spacingAndGlyphs">1.2000</text>
<rect x="818.8" y="220.60" width="31.2" height="11.1" fill="#ff00ff"/>
<text x="824.2" y="229.0" font-size="8.3" fill="#fff" stroke="#fff" stroke-width="0.15" textLength="23.2" lengthAdjust="spacingAndGlyphs">1.2895</text>
<rect x="818.8" y="267.05" width="31.2" height="11.1" fill="#ff00ff"/>
<text x="824.2" y="275.4" font-size="8.3" fill="#fff" stroke="#fff" stroke-width="0.15" textLength="23.2" lengthAdjust="spacingAndGlyphs">1.2670</text>
<rect x="818.8" y="285.50" width="31.2" height="11.1" fill="#000"/>
<text x="824.2" y="293.9" font-size="8.3" fill="#fff" stroke="#fff" stroke-width="0.15" textLength="23.2" lengthAdjust="spacingAndGlyphs">1.2578</text>
<path d="M62.8 419.5v3M152.5 419.5v3M244.3 419.5v3M339.3 419.5v3M432.9 419.5v3M525.3 419.5v3M616.3 419.5v3M707.4 419.5v3M799.4 419.5v3" stroke="#666" stroke-width="1"/>
<text transform="translate(63.1 430.3) scale(0.9 1)" font-size="8.5" fill="#444" stroke="#444" stroke-width="0.25" text-anchor="middle">2017</text>
<text transform="translate(152.8 430.3) scale(0.9 1)" font-size="8.5" fill="#444" stroke="#444" stroke-width="0.25" text-anchor="middle">Мар</text>
<text transform="translate(244.6 430.3) scale(0.9 1)" font-size="8.5" fill="#444" stroke="#444" stroke-width="0.25" text-anchor="middle">Май</text>
<text transform="translate(339.6 430.3) scale(0.9 1)" font-size="8.5" fill="#444" stroke="#444" stroke-width="0.25" text-anchor="middle">Июл</text>
<text transform="translate(433.2 430.3) scale(0.9 1)" font-size="8.5" fill="#444" stroke="#444" stroke-width="0.25" text-anchor="middle">Сен</text>
<text transform="translate(525.6 430.3) scale(0.9 1)" font-size="8.5" fill="#444" stroke="#444" stroke-width="0.25" text-anchor="middle">Ноя</text>
<text transform="translate(616.6 430.3) scale(0.9 1)" font-size="8.5" fill="#444" stroke="#444" stroke-width="0.25" text-anchor="middle">2018</text>
<text transform="translate(707.7 430.3) scale(0.9 1)" font-size="8.5" fill="#444" stroke="#444" stroke-width="0.25" text-anchor="middle">Мар</text>
<text transform="translate(799.7 430.3) scale(0.9 1)" font-size="8.5" fill="#444" stroke="#444" stroke-width="0.25" text-anchor="middle">Май</text>
<rect x="3.2" y="7.6" width="8.8" height="8.8" rx="1.5" fill="#fff" stroke="#8a8a8a" stroke-width="1"/>
<path d="M4.6 12H10.6" stroke="#666" stroke-width="1"/>
<text x="16.9" y="16.6" font-size="12.6" fill="#3c3c3c" stroke="#3c3c3c" stroke-width="0.45" textLength="20.2" lengthAdjust="spacingAndGlyphs">USD</text>
<path d="M38.4 16.8L42.3 7.4" stroke="#3c3c3c" stroke-width="1.5"/>
<text x="44.0" y="16.6" font-size="12.6" fill="#3c3c3c" stroke="#3c3c3c" stroke-width="0.45" textLength="20.8" lengthAdjust="spacingAndGlyphs">CAD</text>
<text x="65.6" y="16.6" font-size="12.6" fill="#3c3c3c" stroke="#3c3c3c" stroke-width="0.45">,</text>
<text x="73.4" y="16.6" font-size="12.6" fill="#3c3c3c" stroke="#3c3c3c" stroke-width="0.45" textLength="9.0" lengthAdjust="spacingAndGlyphs">Д</text>
<text x="82.8" y="16.6" font-size="12.6" fill="#3c3c3c" stroke="#3c3c3c" stroke-width="0.45">,</text>
<path d="M89.6 10.5h5.2l-2.6 2.8z" fill="#a0a0a0"/>
<rect x="102.1" y="6.4" width="10" height="9.8" fill="#dadada"/>
<rect x="114.4" y="6.4" width="10" height="9.8" fill="#dadada"/>
<ellipse cx="107.15" cy="11.3" rx="3.15" ry="2.7" fill="none" stroke="#fff" stroke-width="1.25"/><circle cx="107.15" cy="11.3" r="0.85" fill="#fff"/>
<circle cx="119.4" cy="11.3" r="2.2" fill="none" stroke="#fff" stroke-width="1.8"/><path d="M122.10 11.30L123.15 11.30M121.31 13.21L122.05 13.95M119.40 14.00L119.40 15.05M117.49 13.21L116.75 13.95M116.70 11.30L115.65 11.30M117.49 9.39L116.75 8.65M119.40 8.60L119.40 7.55M121.31 9.39L122.05 8.65" stroke="#fff" stroke-width="1.35"/>
</g></svg>
</body></html>
